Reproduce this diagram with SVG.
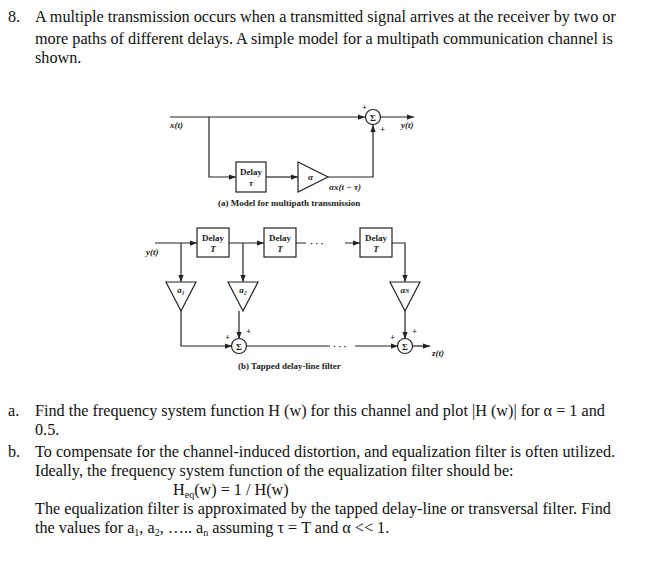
<svg xmlns="http://www.w3.org/2000/svg" width="656" height="565" viewBox="0 0 656 565">
<defs>
<marker id="ar" viewBox="0 0 8 6" refX="8" refY="3" markerWidth="6" markerHeight="5" orient="auto"><path d="M0,0L8,3L0,6z" fill="#222"/></marker>
<style>
.t{font-family:"Liberation Serif",serif;font-size:16.2px;fill:#111}
.s{font-family:"Liberation Serif",serif;font-size:9px;font-weight:bold;fill:#222}
.l{stroke:#222;stroke-width:1.2;fill:none}
.b{stroke:#222;stroke-width:1.2;fill:#fff}
</style>
</defs>
<rect width="656" height="565" fill="#fff"/>
<g id="text">
<text class="t" x="8" y="22">8.</text>
<text class="t" x="35" y="22">A multiple transmission occurs when a transmitted signal arrives at the receiver by two or</text>
<text class="t" x="35" y="44">more paths of different delays. A simple model for a multipath communication channel is</text>
<text class="t" x="35" y="63">shown.</text>
<text class="t" x="8" y="416">a.</text>
<text class="t" x="35" y="416">Find the frequency system function H (w) for this channel and plot |H (w)| for α = 1 and</text>
<text class="t" x="35" y="435">0.5.</text>
<text class="t" x="8" y="457">b.</text>
<text class="t" x="35" y="457">To compensate for the channel-induced distortion, and equalization filter is often utilized.</text>
<text class="t" x="35" y="476">Ideally, the frequency system function of the equalization filter should be:</text>
<text class="t" x="173" y="495">H<tspan font-size="10" dy="3">eq</tspan><tspan dy="-3">(w) = 1 / H(w)</tspan></text>
<text class="t" x="35" y="514">The equalization filter is approximated by the tapped delay-line or transversal filter. Find</text>
<text class="t" x="35" y="533">the values for a<tspan font-size="10" dy="3">1</tspan><tspan dy="-3">, a</tspan><tspan font-size="10" dy="3">2</tspan><tspan dy="-3">, ….. a</tspan><tspan font-size="10" dy="3">n</tspan><tspan dy="-3"> assuming τ = T and α &lt;&lt; 1.</tspan></text>
</g>
<g id="connectors">
<path class="l" d="M170,117H365" marker-end="url(#ar)"/>
<path class="l" d="M380,117H414" marker-end="url(#ar)"/>
<path class="l" d="M209,117V177H236" marker-end="url(#ar)"/>
<path class="l" d="M266,177H298" marker-end="url(#ar)"/>
<path class="l" d="M328,177H373V125" marker-end="url(#ar)"/>
<path class="l" d="M155,243H197" marker-end="url(#ar)"/>
<path class="l" d="M229,243H264" marker-end="url(#ar)"/>
<path class="l" d="M296,243H306M345,243H360" marker-end="url(#ar)"/>
<path class="l" d="M181,243V282" marker-end="url(#ar)"/>
<path class="l" d="M243,243V282" marker-end="url(#ar)"/>
<path class="l" d="M392,243H405V282" marker-end="url(#ar)"/>
<path class="l" d="M181,311V346H232" marker-end="url(#ar)"/>
<path class="l" d="M239,311V339" marker-end="url(#ar)"/>
<path class="l" d="M405,311V339" marker-end="url(#ar)"/>
<path class="l" d="M246,346H330M355,346H398" marker-end="url(#ar)"/>
<path class="l" d="M412,346H430" marker-end="url(#ar)"/>
<text class="s" x="310" y="246" font-size="10">· · ·</text>
<text class="s" x="333" y="349" font-size="10">· · ·</text>
</g>
<g id="sumA"><circle class="b" cx="373" cy="117" r="7.5"/><text class="s" x="373" y="120.5" text-anchor="middle" font-size="10">Σ</text><text class="s" x="362" y="110">+</text><text class="s" x="380" y="132">+</text></g>
<g id="delayA"><rect class="b" x="236" y="162" width="30" height="30"/><text class="s" x="251" y="175" text-anchor="middle">Delay</text><text class="s" x="251" y="186" text-anchor="middle" font-style="italic">τ</text></g>
<g id="gainA"><path class="b" d="M298,162L328,177L298,192z"/><text class="s" x="308" y="180" font-style="italic">α</text></g>
<g id="labelsA">
<text class="s" x="170" y="128" font-style="italic">x(t)</text>
<text class="s" x="401" y="128" font-style="italic">y(t)</text>
<text class="s" x="329" y="190" font-style="italic">αx(t − τ)</text>
<text class="s" x="218" y="206">(a)  Model for multipath transmission</text>
</g>
<g id="delay1"><rect class="b" x="197" y="228" width="32" height="29"/><text class="s" x="213" y="241" text-anchor="middle">Delay</text><text class="s" x="213" y="252" text-anchor="middle" font-style="italic">T</text></g>
<g id="delay2"><rect class="b" x="264" y="228" width="32" height="29"/><text class="s" x="280" y="241" text-anchor="middle">Delay</text><text class="s" x="280" y="252" text-anchor="middle" font-style="italic">T</text></g>
<g id="delay3"><rect class="b" x="360" y="228" width="32" height="29"/><text class="s" x="376" y="241" text-anchor="middle">Delay</text><text class="s" x="376" y="252" text-anchor="middle" font-style="italic">T</text></g>
<g id="gain1"><path class="b" d="M166,282H196L181,311z"/><text class="s" x="181" y="293" text-anchor="middle" font-style="italic">a₁</text></g>
<g id="gain2"><path class="b" d="M228,282H258L243,311z"/><text class="s" x="243" y="293" text-anchor="middle" font-style="italic">a₂</text></g>
<g id="gainN"><path class="b" d="M390,282H420L405,311z"/><text class="s" x="405" y="293" text-anchor="middle" font-style="italic">a<tspan font-size="6">N</tspan></text></g>
<g id="sum1"><circle class="b" cx="239" cy="346" r="7.5"/><text class="s" x="239" y="349.5" text-anchor="middle" font-size="10">Σ</text><text class="s" x="225" y="340">+</text><text class="s" x="246" y="334">+</text></g>
<g id="sumN"><circle class="b" cx="405" cy="346" r="7.5"/><text class="s" x="405" y="349.5" text-anchor="middle" font-size="10">Σ</text><text class="s" x="390" y="340">+</text><text class="s" x="412" y="334">+</text></g>
<g id="labelsB">
<text class="s" x="146" y="255" font-style="italic">y(t)</text>
<text class="s" x="432" y="356" font-style="italic">z(t)</text>
<text class="s" x="238" y="369">(b)  Tapped delay-line filter</text>
</g>
</svg>
